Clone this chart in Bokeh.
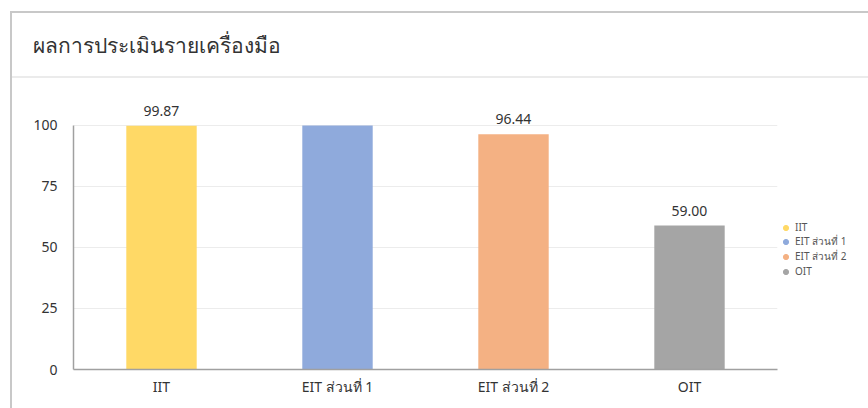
from bokeh.plotting import figure
from bokeh.models import (FactorRange, Range1d, FixedTicker, LabelSet, ColumnDataSource,
                          Legend, LegendItem)
from bokeh.core.properties import value
from bokeh.embed import file_html
from bokeh.resources import INLINE

title_text = "ผลการประเมินรายเครื่องมือ"
categories = ["IIT", "EIT ส่วนที่ 1", "EIT ส่วนที่ 2", "OIT"]
scores = [99.87, 100.0, 96.44, 59.00]
score_labels = ["99.87", "", "96.44", "59.00"]
colors = ["#FFD966", "#8FAADC", "#F4B183", "#A5A5A5"]
y_ticks = [0, 25, 50, 75, 100]

FONT = "Noto Sans"
TXT = "#333333"

src = ColumnDataSource(dict(cat=categories, score=scores, label=score_labels, color=colors))

p = figure(frame_width=704, frame_height=286, x_range=FactorRange(*categories),
           y_range=Range1d(0, 117.2),
           output_backend="svg", toolbar_location=None, title=title_text,
           min_border_left=73, min_border_right=91, min_border_top=83, min_border_bottom=39)
p.outline_line_color = None
p.background_fill_color = "white"
p.border_fill_color = None
p.styles = {
    "background-color": "white",
    "background-image": ("linear-gradient(#c8c8c8, #c8c8c8), linear-gradient(#c8c8c8, #c8c8c8), "
                         "linear-gradient(#ebebeb, #ebebeb)"),
    "background-size": "2px 100%, 100% 2px, 100% 2px",
    "background-position": "10px 11px, 10px 11px, 12px 76px",
    "background-repeat": "no-repeat",
}

p.title.text_font = FONT
p.title.text_font_size = "21px"
p.title.text_font_style = "normal"
p.title.text_color = TXT
p.title.align = "left"
p.title.offset = -41
p.title.standoff = 50

p.vbar(x="cat", top="score", width=0.4, fill_color="color", line_color=None, source=src)
p.add_layout(LabelSet(x="cat", y="score", text="label", source=src, y_offset=10,
                      text_align="center", text_baseline="bottom", text_font=value(FONT),
                      text_font_size="14px", text_color=TXT))

items = []
for c, col in zip(categories, colors):
    r = p.scatter(x=[c], y=[float("nan")], marker="circle", size=8, fill_color=col, line_color=col)
    items.append(LegendItem(label=c, renderers=[r]))
leg = Legend(items=items, location=(2, 91), border_line_color=None, background_fill_alpha=0,
             padding=0, margin=0, spacing=0, glyph_width=13, glyph_height=13, label_height=13,
             label_standoff=3, label_text_font=FONT, label_text_font_size="10px",
             label_text_color="#555555")
p.add_layout(leg, "right")

p.yaxis.ticker = FixedTicker(ticks=y_ticks)
p.yaxis.bounds = (0, 100)
p.ygrid.ticker = FixedTicker(ticks=y_ticks)
p.ygrid.grid_line_color = "#ececec"
p.xgrid.grid_line_color = None
for ax in (p.xaxis, p.yaxis):
    ax.axis_line_color = "#a0a0a0"
    ax.axis_line_width = 1.5
    ax.major_tick_line_color = None
    ax.minor_tick_line_color = None
    ax.major_label_text_font = FONT
    ax.major_label_text_font_size = "14px"
    ax.major_label_text_color = TXT
p.yaxis.major_label_standoff = 10
p.xaxis.major_label_standoff = 1

open("out.html", "w").write(file_html(p, INLINE))
